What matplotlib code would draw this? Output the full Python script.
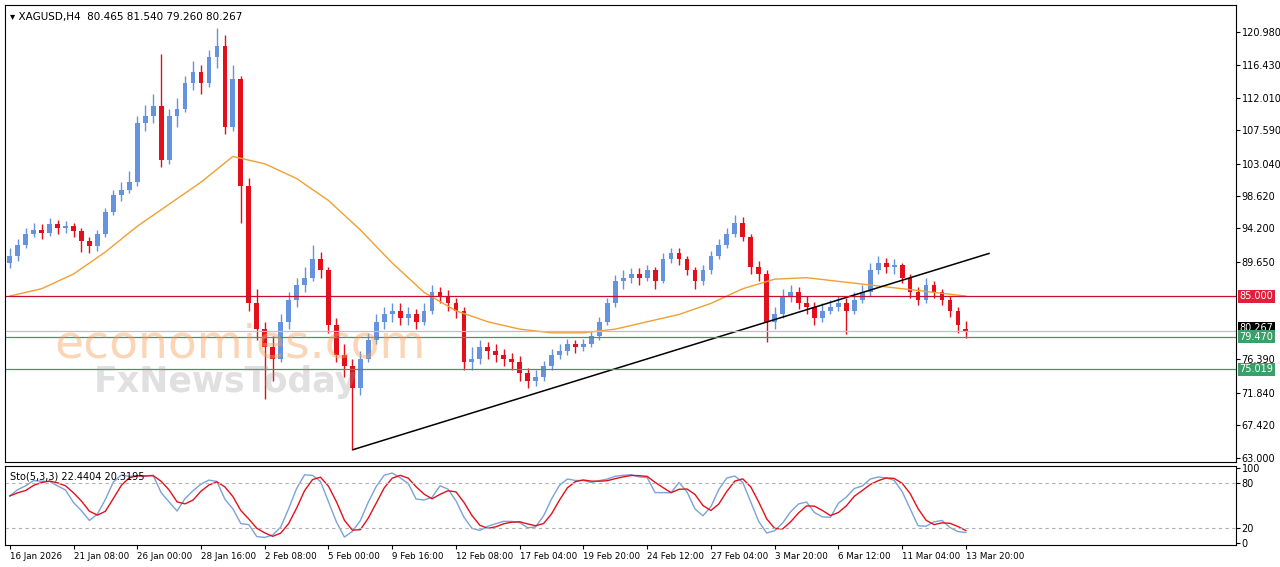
import matplotlib
matplotlib.use("Agg")
import matplotlib.pyplot as plt
import numpy as np
import pandas as pd

# 8-hour candles (two H4 bars each), XAGUSD
closes = [90.5, 92.0, 93.5, 94.0, 93.6, 94.8, 94.2, 94.5, 93.8, 92.5,
          91.8, 93.5, 96.5, 98.8, 99.5, 100.5, 108.5, 109.5, 110.8, 103.5,
          109.5, 110.5, 114.0, 115.5, 114.0, 117.5, 119.0, 108.0, 114.5, 100.0,
          84.0, 80.5, 78.0, 76.5, 81.5, 84.5, 86.5, 87.5, 90.0, 88.5,
          81.0, 77.0, 75.5, 72.5, 76.5, 79.0, 81.5, 82.5, 83.0, 82.0,
          82.5, 81.5, 83.0, 85.5, 85.0, 84.0, 83.0, 76.0, 76.5, 78.0,
          77.5, 77.0, 76.5, 76.0, 74.5, 73.5, 74.0, 75.5, 77.0, 77.5,
          78.5, 78.0, 78.5, 79.5, 81.5, 84.0, 87.0, 87.5, 88.0, 87.5,
          88.5, 87.0, 90.0, 90.8, 90.0, 88.5, 87.0, 88.5, 90.5, 92.0,
          93.5, 95.0, 93.0, 89.0, 88.0, 81.5, 82.5, 85.0, 85.5, 84.0,
          83.5, 82.0, 83.0, 83.5, 84.0, 83.0, 84.5, 85.5, 88.5, 89.5,
          89.0, 89.2, 87.5, 85.5, 84.5, 86.5, 85.5, 84.5, 83.0, 81.0, 80.267]
opens = [89.5] + closes[:-2] + [80.465]
highs = [91.5, 92.8, 94.2, 95.0, 94.8, 95.6, 95.4, 95.2, 95.0, 94.2,
         93.0, 94.0, 97.0, 99.5, 100.5, 102.0, 109.5, 111.0, 112.5, 118.0,
         110.5, 112.0, 115.0, 117.0, 116.5, 118.5, 121.5, 120.5, 116.5, 115.0,
         101.0, 86.0, 81.5, 79.5, 82.5, 85.5, 87.5, 89.0, 92.0, 91.0,
         89.0, 82.0, 78.5, 76.5, 77.5, 80.0, 82.5, 83.5, 84.0, 84.0,
         83.5, 83.2, 84.0, 86.5, 86.2, 85.8, 84.8, 83.5, 78.0, 79.0,
         78.8, 78.5, 77.8, 77.2, 76.8, 75.2, 75.0, 76.2, 77.8, 78.5,
         79.2, 79.0, 79.2, 80.2, 82.2, 84.8, 87.8, 88.5, 88.8, 88.8,
         89.2, 89.0, 90.8, 91.5, 91.5, 90.5, 89.0, 89.2, 91.2, 92.8,
         94.2, 96.0, 95.8, 93.5, 89.8, 88.5, 83.5, 86.0, 86.5, 86.2,
         85.0, 84.2, 84.0, 84.5, 85.0, 84.8, 85.5, 86.5, 89.5, 90.5,
         90.2, 90.0, 89.5, 88.0, 86.2, 87.5, 87.0, 86.0, 85.0, 83.5, 81.54]
lows = [88.8, 89.8, 91.5, 93.0, 92.8, 93.2, 93.5, 93.6, 93.0, 91.0,
        90.8, 91.2, 93.0, 96.0, 98.0, 99.0, 100.0, 107.5, 108.5, 102.5,
        103.0, 108.0, 110.0, 113.0, 112.5, 113.5, 116.0, 107.0, 107.5, 95.0,
        83.0, 79.0, 71.0, 73.5, 76.0, 80.5, 83.5, 85.5, 87.0, 87.5,
        80.0, 76.0, 74.0, 64.1, 71.5, 76.0, 78.5, 80.5, 81.5, 81.0,
        81.0, 80.5, 81.0, 82.5, 84.0, 83.0, 82.0, 75.0, 75.0, 75.8,
        76.5, 76.0, 75.5, 75.0, 73.5, 72.5, 72.8, 73.5, 75.0, 76.5,
        77.0, 77.2, 77.5, 78.0, 79.0, 81.0, 83.5, 86.0, 86.8, 86.5,
        87.0, 86.0, 86.8, 89.5, 89.2, 87.8, 86.0, 86.5, 88.0, 90.0,
        91.5, 93.0, 92.5, 88.0, 87.0, 78.8, 80.5, 82.0, 84.2, 83.2,
        82.5, 81.0, 81.5, 82.5, 83.0, 79.8, 82.5, 84.0, 85.0, 88.0,
        88.2, 88.0, 86.8, 84.8, 83.8, 84.0, 84.8, 83.8, 82.2, 80.0, 79.26]

# moving average, read every 4 candles
ma_values = [85.0, 86.0, 88.0, 91.0, 94.5, 97.5, 100.5, 104.0, 103.0, 101.0,
             98.0, 94.0, 89.5, 85.5, 83.0, 81.5, 80.5, 80.0, 80.0, 80.5,
             81.5, 82.5, 84.0, 86.0, 87.3, 87.5, 87.0, 86.5, 86.0, 85.5, 85.0]

date_labels = ["16 Jan 2026", "21 Jan 08:00", "26 Jan 00:00", "28 Jan 16:00",
               "2 Feb 08:00", "5 Feb 00:00", "9 Feb 16:00", "12 Feb 08:00",
               "17 Feb 04:00", "19 Feb 20:00", "24 Feb 12:00", "27 Feb 04:00",
               "3 Mar 20:00", "6 Mar 12:00", "11 Mar 04:00", "13 Mar 20:00"]
price_ticks = [120.980, 116.430, 112.010, 107.590, 103.040, 98.620, 94.200,
               89.650, 76.390, 71.840, 67.420, 63.000]
levels = {"resistance": 85.000, "support1": 79.470, "support2": 75.019}
last_price = 80.267
trend_start = (43.1, 64.1)
trend_end = (122.9, 90.8)

BULL = "#6693dd"
BEAR = "#e3101c"

fig = plt.figure(figsize=(12.8, 5.67), dpi=100)
fig.patch.set_facecolor("white")
ax = fig.add_axes([0.0039, 0.185, 0.9617, 0.806])
axs = fig.add_axes([0.0039, 0.0388, 0.9617, 0.139])

n = len(closes)
x = np.arange(n)
for i in range(n):
    o, c, h, l = opens[i], closes[i], highs[i], lows[i]
    col = BULL if c >= o else BEAR
    ax.vlines(i, l, h, color=col, lw=1)
    ax.bar(i, max(abs(c - o), 0.12), bottom=min(o, c), width=0.6, color=col, lw=0)

ax.plot(np.arange(0, 4 * len(ma_values), 4), ma_values, color="#f0a030", lw=1)
ax.plot([trend_start[0], trend_end[0]], [trend_start[1], trend_end[1]], color="black", lw=1.1)
ax.axhline(levels["resistance"], color="#c8102e", lw=0.9)
ax.axhline(levels["support1"], color="#3a9a6a", lw=0.9)
ax.axhline(levels["support2"], color="#3a9a6a", lw=0.9)
ax.axhline(last_price, color="#c0c0c0", lw=0.9)

xmax = 153.9
ax.set_xlim(-0.6, xmax)
ax.set_ylim(62.4, 124.6)
ax.yaxis.tick_right()
ax.set_yticks(price_ticks)
ax.set_yticklabels([f"{v:.3f}" for v in price_ticks], fontsize=7)
ax.tick_params(axis="y", length=3, pad=1)
ax.set_xticks([])

def tag(axis, y, text, bg, fg="white"):
    axis.text(1.003, y, text, transform=axis.get_yaxis_transform(), fontsize=7,
              color=fg, va="center", ha="left",
              bbox=dict(boxstyle="square,pad=0.15", fc=bg, ec="none"))

tag(ax, last_price + 0.35, f"{last_price:.3f}", "black")
tag(ax, levels["resistance"], "85.000", "#e0203a")
tag(ax, levels["support1"], "79.470", "#3aa06a")
tag(ax, levels["support2"], "75.019", "#3aa06a")

ax.text(0.004, 0.985, "\u25be XAGUSD,H4  80.465 81.540 79.260 80.267", transform=ax.transAxes,
        fontsize=7.5, va="top", ha="left")

# watermark
ax.text(5.6, 78.3, "economies.com", fontsize=34, color="#f4a460", alpha=0.45,
        ha="left", va="center")
ax.text(10.6, 73.3, "FxNewsToday", fontsize=25, color="#999999", alpha=0.3,
        ha="left", va="center", fontweight="bold")

# stochastic 5,3,3
df = pd.DataFrame({"h": highs, "l": lows, "c": closes})
hh = df["h"].rolling(5, min_periods=1).max()
ll = df["l"].rolling(5, min_periods=1).min()
raw = 100 * (df["c"] - ll) / (hh - ll)
k = raw.rolling(3, min_periods=1).mean()
d = k.rolling(3, min_periods=1).mean()
axs.plot(x, k, color="#7aa3d8", lw=1)
axs.plot(x, d, color="#e3101c", lw=1)
for lv in (80, 20):
    axs.axhline(lv, color="#b0b0b0", lw=0.8, ls=(0, (3, 3)))
axs.set_xlim(-0.6, xmax)
axs.set_ylim(-3, 103)
axs.yaxis.tick_right()
axs.set_yticks([100, 80, 20, 0])
axs.set_yticklabels(["100", "80", "20", "0"], fontsize=7)
axs.tick_params(axis="y", length=3, pad=1)
axs.set_xticks(np.arange(0, 8 * len(date_labels), 8))
axs.set_xticklabels(date_labels, fontsize=6.3, ha="left")
axs.tick_params(axis="x", length=3, pad=2)
axs.text(0.004, 0.93, "Sto(5,3,3) 22.4404 20.3195", transform=axs.transAxes,
         fontsize=7, va="top", ha="left")

for a in (ax, axs):
    for s in a.spines.values():
        s.set_color("black")
        s.set_linewidth(0.8)

fig.savefig("out.png", dpi=100)
